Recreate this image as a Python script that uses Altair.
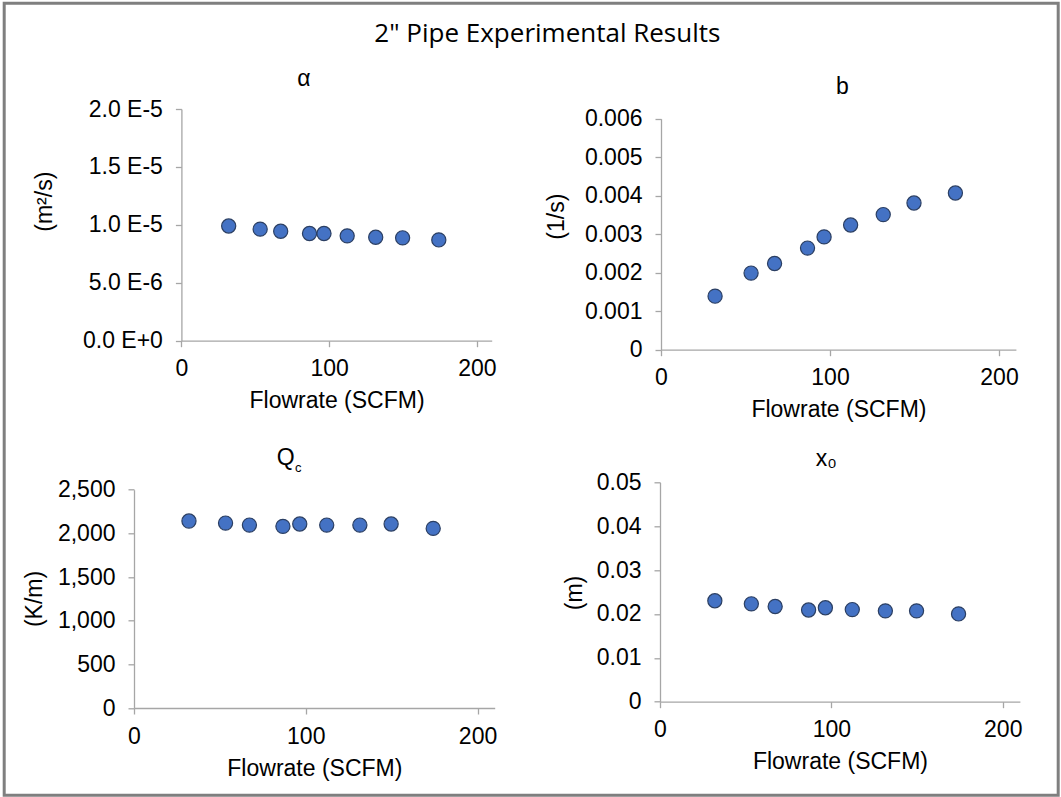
import altair as alt
import pandas as pd

# ---------------- data ----------------
flow = [32.0, 53.3, 67.2, 86.7, 96.5, 112.2, 131.5, 149.7, 174.2]
alpha_vals = [9.90e-6, 9.63e-6, 9.45e-6, 9.25e-6, 9.25e-6, 9.05e-6, 8.93e-6, 8.88e-6, 8.70e-6]
b_vals = [0.00139, 0.00199, 0.00224, 0.00264, 0.00293, 0.00324, 0.00351, 0.00381, 0.00407]
qc_vals = [2141, 2118, 2095, 2080, 2107, 2095, 2095, 2107, 2057]
x0_vals = [0.0230, 0.0223, 0.0217, 0.0209, 0.0214, 0.0210, 0.0207, 0.0207, 0.0200]

x_ticks = [0, 100, 200]
alpha_ticks = [0, 5e-6, 1e-5, 1.5e-5, 2e-5]
b_ticks = [0, 0.001, 0.002, 0.003, 0.004, 0.005, 0.006]
qc_ticks = [0, 500, 1000, 1500, 2000, 2500]
x0_ticks = [0, 0.01, 0.02, 0.03, 0.04, 0.05]

main_title = '2" Pipe Experimental Results'
x_title = "Flowrate (SCFM)"

# ---------------- styling ----------------
FONT = "Liberation Sans"
FS = 23
W, H = 361, 240.7
FILL = "#4472C4"
EDGE = "#2B3F63"
AXIS_GRAY = "#A6A6A6"

one = pd.DataFrame({"k": [0]})


def txt(text, x, y, size=FS, font=FONT, angle=0, baseline="alphabetic"):
    return alt.Chart(one).mark_text(
        text=text, fontSize=size, font=font, angle=angle,
        baseline=baseline, align="center", color="#000000"
    ).encode(x=alt.value(x), y=alt.value(y))


def panel(yvals, yticks, label_expr, xrange, yrange, yoff, xoff, extras):
    df = pd.DataFrame({"flow": flow, "v": yvals})
    pts = alt.Chart(df).mark_circle(
        size=200, fill=FILL, stroke=EDGE, strokeWidth=1.2, opacity=1
    ).encode(
        x=alt.X("flow:Q",
                scale=alt.Scale(domain=[0, 210], range=xrange, nice=False, zero=True),
                axis=alt.Axis(values=x_ticks, title=x_title, offset=xoff,
                              labelPadding=11, titlePadding=9, labelFlush=False,
                              format="d")),
        y=alt.Y("v:Q",
                scale=alt.Scale(domain=[yticks[0], yticks[-1]], range=yrange, nice=False),
                axis=alt.Axis(values=yticks, title=None, offset=yoff,
                              labelPadding=13, labelExpr=label_expr, labelFlush=False)),
    )
    return alt.layer(pts, *extras).properties(width=W, height=H)


border = alt.Chart(one).mark_rect(
    fillOpacity=0, stroke="#7F7F7F", strokeWidth=3
).encode(x=alt.value(-129.8), x2=alt.value(924.2), y=alt.value(-105.8), y2=alt.value(686.2))

p1 = panel(
    alpha_vals, alpha_ticks,
    "replace(upper(format(datum.value, '.1e')), 'E', ' E')",
    [47.4, 357.7], [231.7, 0], -47.4, -9,
    [border,
     txt(main_title, 413.4, -66.6, size=26, font="Open Sans"),
     txt("α", 170, -23.3),
     txt("(m²/s)", -89.3, 92.7, angle=270, baseline="middle")],
)

p2 = panel(
    b_vals, b_ticks,
    "datum.value == 0 ? '0' : format(datum.value, '.3f')",
    [1, 355.9], [240.7, 9.7], -1, 0,
    [txt("b", 182.4, -15.3),
     txt("(1/s)", -102.6, 107.7, angle=270, baseline="middle")],
)

p3 = panel(
    qc_vals, qc_ticks,
    "format(datum.value, ',d')",
    [0, 360.7], [225.7, 7.4], 0, -15,
    [txt("Q", 151.7, -17),
     txt("c", 164.2, -10.6, size=13),
     txt("(K/m)", -99.3, 116.7, angle=270, baseline="middle")],
)

p4 = panel(
    x0_vals, x0_ticks,
    "datum.value == 0 ? '0' : format(datum.value, '.2f')",
    [0, 359.9], [219.4, 0], 0, -21.3,
    [txt("x₀", 166.2, -16.3),
     txt("(m)", -84.8, 110.7, angle=270, baseline="middle")],
)

chart = alt.concat(
    p1, p2, p3, p4,
    columns=2,
    spacing={"row": 132.3, "column": 165},
    bounds="flush",
).properties(
    padding={"left": 2, "top": 1, "right": 1, "bottom": 0},
    background="white",
).configure_view(
    strokeWidth=0
).configure_axis(
    grid=False,
    domainColor=AXIS_GRAY,
    domainWidth=1.3,
    tickColor=AXIS_GRAY,
    tickWidth=1.3,
    tickSize=6,
    labelFont=FONT,
    labelFontSize=FS,
    labelColor="#000000",
    titleFont=FONT,
    titleFontSize=FS,
    titleFontWeight="normal",
    titleColor="#000000",
)

chart.save("out.html", embed_options={"renderer": "svg", "actions": False})
